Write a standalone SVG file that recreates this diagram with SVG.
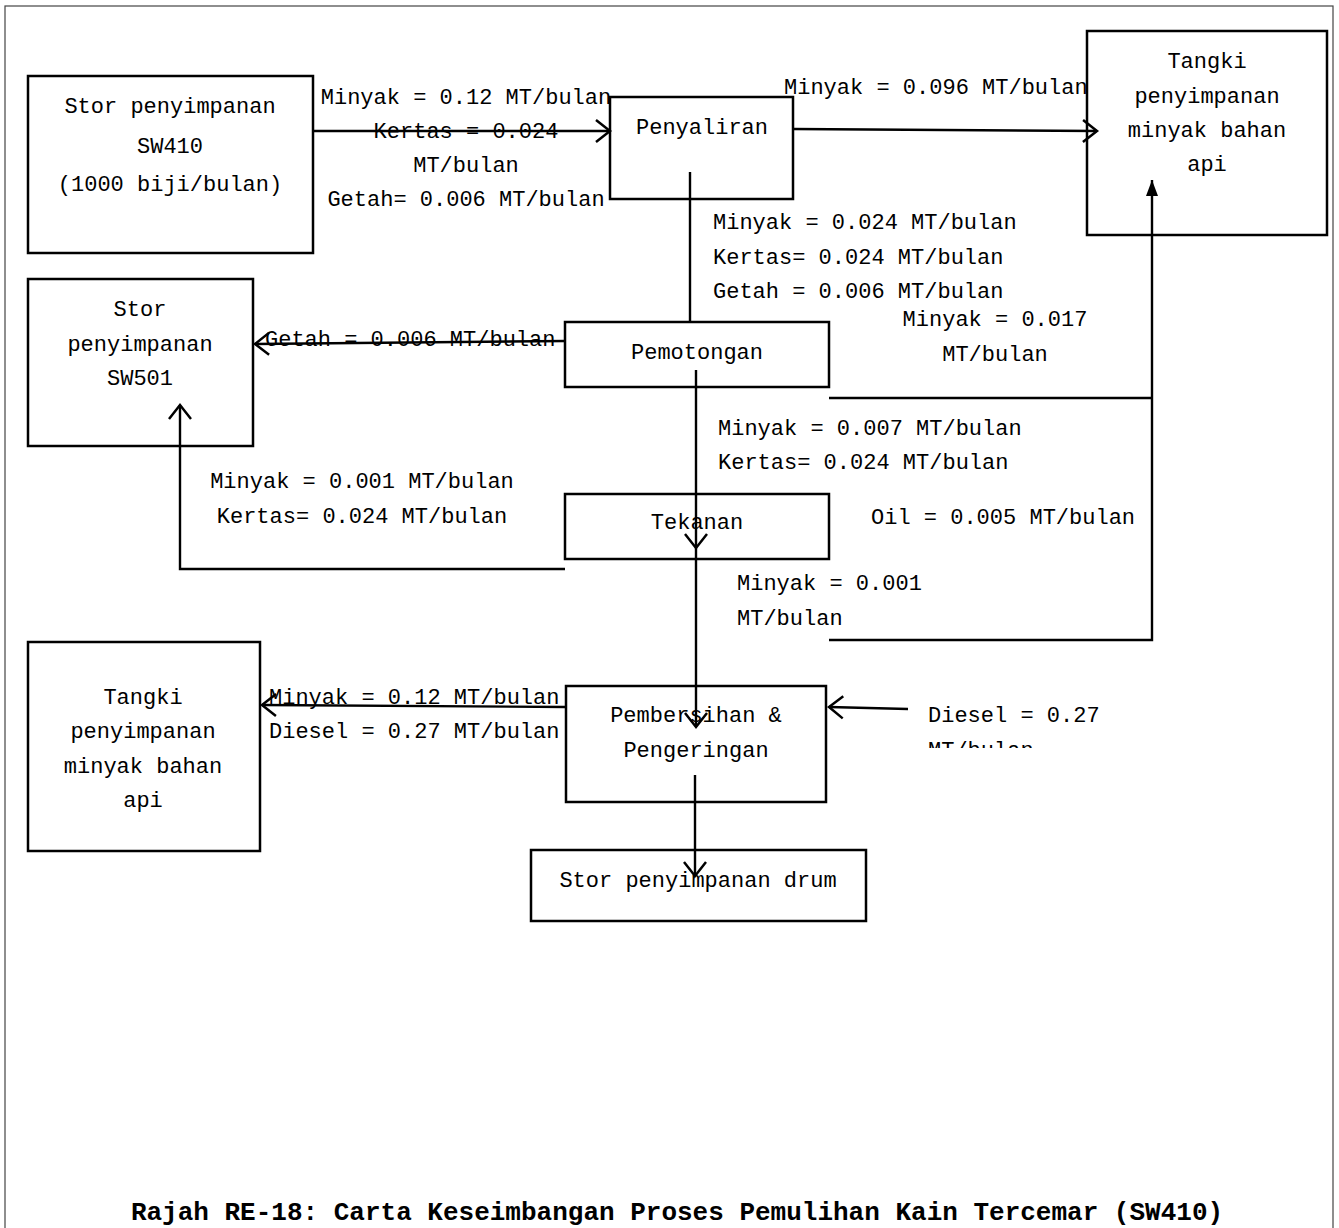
<svg xmlns="http://www.w3.org/2000/svg" width="1339" height="1228" viewBox="0 0 1339 1228">
<style>
.box{fill:#fff;stroke:#000;stroke-width:2.5}
.t{font-family:"Liberation Mono","DejaVu Sans Mono",monospace;font-size:22px;fill:#000}
.c{text-anchor:middle}
.ln{fill:none;stroke:#000;stroke-width:2.4}
.title{font-family:"Liberation Mono","DejaVu Sans Mono",monospace;font-size:26px;font-weight:bold;fill:#000;text-anchor:middle}
</style>
<defs>
<marker id="open" viewBox="0 0 14 22" refX="14" refY="11" markerWidth="14" markerHeight="22" markerUnits="userSpaceOnUse" orient="auto" overflow="visible">
<path d="M0,0 L14,11 L0,22" fill="none" stroke="#000" stroke-width="2.5"/>
</marker>
<marker id="solid" viewBox="0 0 16 12" refX="16" refY="6" markerWidth="16" markerHeight="12" markerUnits="userSpaceOnUse" orient="auto">
<path d="M0,0 L16,6 L0,12 Z" fill="#000"/>
</marker>
<clipPath id="clipDiesel"><rect x="900" y="690" width="300" height="58"/></clipPath>
</defs>
<rect x="5" y="6" width="1328" height="1230" fill="#fff" stroke="#444" stroke-width="1.2"/>

<g id="n-stor-sw410">
<rect class="box" x="28" y="76" width="285" height="177"/>
<text class="t c" x="170" y="113">Stor penyimpanan</text>
<text class="t c" x="170" y="153">SW410</text>
<text class="t c" x="170" y="191">(1000 biji/bulan)</text>
</g>
<g id="n-penyaliran">
<rect class="box" x="610" y="97" width="183" height="102"/>
<text class="t c" x="702" y="134">Penyaliran</text>
</g>
<g id="n-tangki-1">
<rect class="box" x="1087" y="31" width="240" height="204"/>
<text class="t c" x="1207" y="68">Tangki</text>
<text class="t c" x="1207" y="103">penyimpanan</text>
<text class="t c" x="1207" y="137">minyak bahan</text>
<text class="t c" x="1207" y="171">api</text>
</g>
<g id="n-stor-sw501">
<rect class="box" x="28" y="279" width="225" height="167"/>
<text class="t c" x="140" y="316">Stor</text>
<text class="t c" x="140" y="351">penyimpanan</text>
<text class="t c" x="140" y="385">SW501</text>
</g>
<g id="n-pemotongan">
<rect class="box" x="565" y="322" width="264" height="65"/>
<text class="t c" x="697" y="359">Pemotongan</text>
</g>
<g id="n-tekanan">
<rect class="box" x="565" y="494" width="264" height="65"/>
<text class="t c" x="697" y="529">Tekanan</text>
</g>
<g id="n-tangki-2">
<rect class="box" x="28" y="642" width="232" height="209"/>
<text class="t c" x="143" y="704">Tangki</text>
<text class="t c" x="143" y="738">penyimpanan</text>
<text class="t c" x="143" y="773">minyak bahan</text>
<text class="t c" x="143" y="807">api</text>
</g>
<g id="n-pembersihan">
<rect class="box" x="566" y="686" width="260" height="116"/>
<text class="t c" x="696" y="722">Pembersihan &amp;</text>
<text class="t c" x="696" y="757">Pengeringan</text>
</g>
<g id="n-stor-drum">
<rect class="box" x="531" y="850" width="335" height="71"/>
<text class="t c" x="698" y="887">Stor penyimpanan drum</text>
</g>

<g id="connectors">
<line class="ln" x1="314" y1="131" x2="610" y2="131" marker-end="url(#open)"/>
<line class="ln" x1="793" y1="129" x2="1097" y2="131" marker-end="url(#open)"/>
<line class="ln" x1="690" y1="172" x2="690" y2="322"/>
<line class="ln" x1="565" y1="341" x2="255" y2="344" marker-end="url(#open)"/>
<line class="ln" x1="696" y1="370" x2="696" y2="548" marker-end="url(#open)"/>
<line class="ln" x1="696" y1="548" x2="696" y2="727" marker-end="url(#open)"/>
<line class="ln" x1="695" y1="775" x2="695" y2="876" marker-end="url(#open)"/>
<polyline class="ln" points="565,569 180,569 180,405" marker-end="url(#open)"/>
<polyline class="ln" points="829,398 1152,398"/>
<polyline class="ln" points="829,640 1152,640 1152,180" marker-end="url(#solid)"/>
<line class="ln" x1="566" y1="707" x2="262" y2="705" marker-end="url(#open)"/>
<line class="ln" x1="908" y1="709" x2="829" y2="707" marker-end="url(#open)"/>
</g>

<g id="labels">
<text class="t c" x="466" y="104">Minyak = 0.12 MT/bulan</text>
<text class="t c" x="466" y="138">Kertas = 0.024</text>
<text class="t c" x="466" y="172">MT/bulan</text>
<text class="t c" x="466" y="206">Getah= 0.006 MT/bulan</text>
<text class="t" x="784" y="94">Minyak = 0.096 MT/bulan</text>
<text class="t" x="713" y="229">Minyak = 0.024 MT/bulan</text>
<text class="t" x="713" y="264">Kertas= 0.024 MT/bulan</text>
<text class="t" x="713" y="298">Getah = 0.006 MT/bulan</text>
<text class="t c" x="995" y="326">Minyak = 0.017</text>
<text class="t c" x="995" y="361">MT/bulan</text>
<text class="t" x="265" y="346">Getah = 0.006 MT/bulan</text>
<text class="t" x="718" y="435">Minyak = 0.007 MT/bulan</text>
<text class="t" x="718" y="469">Kertas= 0.024 MT/bulan</text>
<text class="t c" x="362" y="488">Minyak = 0.001 MT/bulan</text>
<text class="t c" x="362" y="523">Kertas= 0.024 MT/bulan</text>
<text class="t" x="871" y="524">Oil = 0.005 MT/bulan</text>
<text class="t" x="737" y="590">Minyak = 0.001</text>
<text class="t" x="737" y="625">MT/bulan</text>
<text class="t" x="269" y="704">Minyak = 0.12 MT/bulan</text>
<text class="t" x="269" y="738">Diesel = 0.27 MT/bulan</text>
<g clip-path="url(#clipDiesel)">
<text class="t" x="928" y="722">Diesel = 0.27</text>
<text class="t" x="928" y="757">MT/bulan</text>
</g>
</g>

<text class="title" x="677" y="1220">Rajah RE-18: Carta Keseimbangan Proses Pemulihan Kain Tercemar (SW410)</text>
</svg>
